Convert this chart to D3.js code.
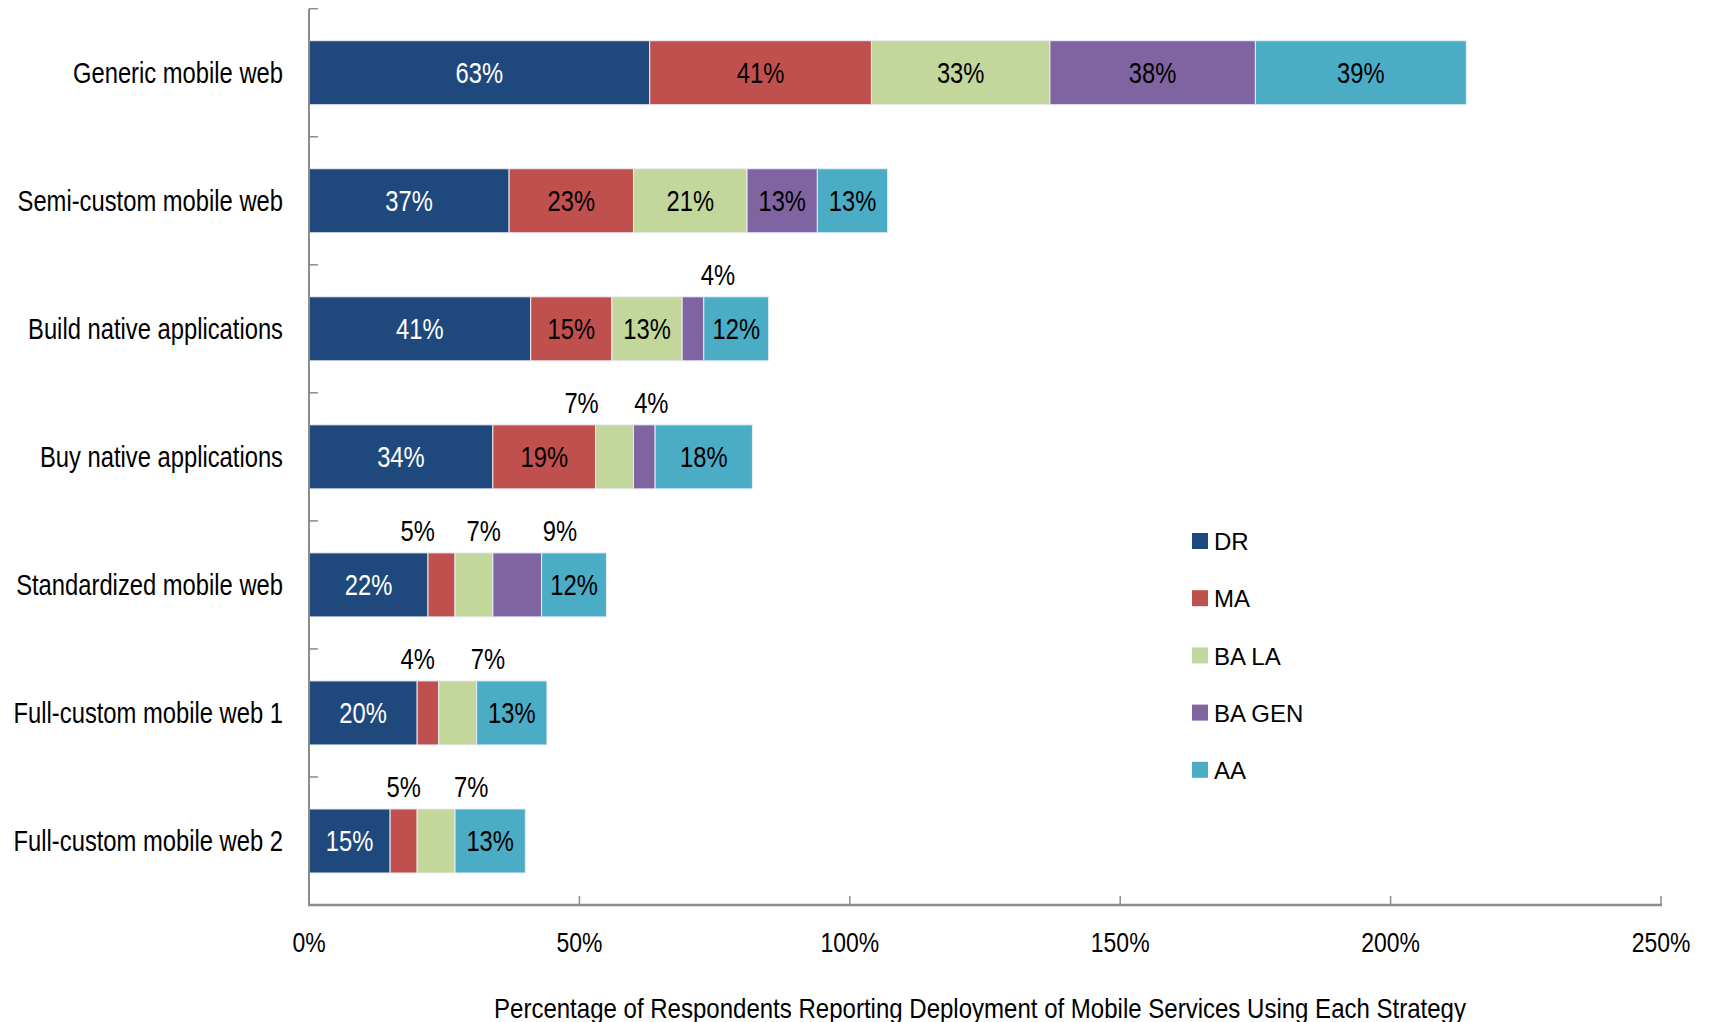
<!DOCTYPE html>
<html>
<head>
<meta charset="utf-8">
<script src="https://cdn.jsdelivr.net/npm/d3@7"></script>
<style>
  html, body { margin: 0; padding: 0; background: #fff; }
  svg text { font-family: "Liberation Sans", Arial, sans-serif; }
</style>
</head>
<body>
<svg id="plot" width="1711" height="1022"></svg>
<script>
const categories = [
  "Generic mobile web",
  "Semi-custom mobile web",
  "Build native applications",
  "Buy native applications",
  "Standardized mobile web",
  "Full-custom mobile web 1",
  "Full-custom mobile web 2"
];
const seriesNames = ["DR", "MA", "BA LA", "BA GEN", "AA"];
const drValues = [63, 37, 41, 34, 22, 20, 15];
const maValues = [41, 23, 15, 19, 5, 4, 5];
const baLaValues = [33, 21, 13, 7, 7, 7, 7];
const baGenValues = [38, 13, 4, 4, 9, 0, 0];
const aaValues = [39, 13, 12, 18, 12, 13, 13];
const xTicks = [0, 50, 100, 150, 200, 250];

const colors = ["#1f497d", "#c0504d", "#c3d69b", "#8064a2", "#4bacc6"];

const svg = d3.select("#plot");
const x0 = 309, x1 = 1661, yTop = 8.7, yBottom = 905;
const narrow = 0.82; // no condensed font installed, so squeeze the text

const xScale = d3.scaleLinear().domain([0, 250]).range([x0, x1]);
const yScale = d3.scaleBand()
  .domain(categories)
  .range([yTop, yBottom])
  .paddingInner(0.5)
  .paddingOuter(0.25);

// put a text at (x, y) and squeeze it horizontally
function place(sel, fx, fy, sx) {
  sel.attr("transform", (d, i) =>
    `translate(${typeof fx === "function" ? fx(d, i) : fx},${typeof fy === "function" ? fy(d, i) : fy}) scale(${sx},1)`);
  return sel;
}

// build table for stacking
const table = categories.map((c, i) => ({
  category: c,
  "DR": drValues[i],
  "MA": maValues[i],
  "BA LA": baLaValues[i],
  "BA GEN": baGenValues[i],
  "AA": aaValues[i]
}));
const stacked = d3.stack().keys(seriesNames)(table);

const layers = svg.append("g").selectAll("g")
  .data(stacked)
  .enter().append("g")
  .attr("fill", (d, i) => colors[i]);

layers.selectAll("rect")
  .data(d => d.filter(p => p[1] > p[0]))
  .enter().append("rect")
  .attr("x", d => xScale(d[0]))
  .attr("y", d => yScale(d.data.category))
  .attr("width", d => xScale(d[1]) - xScale(d[0]))
  .attr("height", yScale.bandwidth())
  .attr("stroke", "#e8eef4")
  .attr("stroke-width", 1);

// hand-tuned shifts (in % units) for small labels that sit above the bar
const labelShift = {
  "Build native applications|BA GEN": 4.6,
  "Buy native applications|BA LA": -6.1,
  "Buy native applications|BA GEN": 1.3,
  "Standardized mobile web|MA": -4.4,
  "Standardized mobile web|BA LA": 1.8,
  "Standardized mobile web|BA GEN": 7.9,
  "Full-custom mobile web 1|MA": -1.9,
  "Full-custom mobile web 1|BA LA": 5.6,
  "Full-custom mobile web 2|BA LA": 6.5
};

stacked.forEach((layer, si) => {
  layer.forEach(p => {
    const v = p[1] - p[0];
    if (v <= 0) return;
    const cat = p.data.category;
    const above = v < 10;
    const shift = labelShift[cat + "|" + layer.key] || 0;
    const cx = xScale((p[0] + p[1]) / 2 + (above ? shift : 0));
    const cy = above
      ? yScale(cat) - 22
      : yScale(cat) + yScale.bandwidth() / 2;
    const t = svg.append("text")
      .attr("dy", "0.36em")
      .attr("text-anchor", "middle")
      .attr("font-size", 29)
      .attr("fill", (si === 0 && !above) ? "#ffffff" : "#000000")
      .text(v + "%");
    place(t, cx, cy, narrow);
  });
});

// axes
const axisColor = "#8c8c8c";
const xAxis = svg.append("g");
xAxis.append("line")
  .attr("x1", x0 - 1).attr("x2", x1 + 1)
  .attr("y1", yBottom).attr("y2", yBottom)
  .attr("stroke", axisColor).attr("stroke-width", 2.5);
xAxis.selectAll(".tick")
  .data(xTicks)
  .enter().append("line")
  .attr("x1", d => xScale(d)).attr("x2", d => xScale(d))
  .attr("y1", yBottom).attr("y2", yBottom - 9)
  .attr("stroke", axisColor).attr("stroke-width", 1.5);
place(xAxis.selectAll("text")
  .data(xTicks)
  .enter().append("text")
  .attr("dy", "0.36em")
  .attr("text-anchor", "middle")
  .attr("font-size", 28)
  .attr("fill", "#000")
  .text(d => d + "%"), d => xScale(d), 942, narrow);

const yAxis = svg.append("g");
yAxis.append("line")
  .attr("x1", x0).attr("x2", x0)
  .attr("y1", yTop).attr("y2", yBottom)
  .attr("stroke", axisColor).attr("stroke-width", 2);
const bounds = categories.map(c => yScale(c) - yScale.step() * 0.25);
yAxis.selectAll(".tick")
  .data(bounds)
  .enter().append("line")
  .attr("x1", x0).attr("x2", x0 + 9)
  .attr("y1", d => d).attr("y2", d => d)
  .attr("stroke", axisColor).attr("stroke-width", 1.5);
place(yAxis.selectAll("text")
  .data(categories)
  .enter().append("text")
  .attr("dy", "0.36em")
  .attr("text-anchor", "end")
  .attr("font-size", 29)
  .attr("fill", "#000")
  .text(d => d), 283, d => yScale(d) + yScale.bandwidth() / 2, narrow);

// axis title
place(svg.append("text")
  .attr("dy", "0.36em")
  .attr("text-anchor", "middle")
  .attr("font-size", 27)
  .attr("fill", "#000")
  .text("Percentage of Respondents Reporting Deployment of Mobile Services Using Each Strategy"),
  980, 1008, 0.89);

// legend
const legend = svg.append("g")
  .attr("transform", "translate(1192, 533)");
const legendItems = legend.selectAll("g")
  .data(seriesNames)
  .enter().append("g")
  .attr("transform", (d, i) => `translate(0, ${i * 57.2})`);
legendItems.append("rect")
  .attr("width", 16)
  .attr("height", 16)
  .attr("fill", (d, i) => colors[i]);
legendItems.append("text")
  .attr("x", 22)
  .attr("y", 8.5)
  .attr("dy", "0.36em")
  .attr("font-size", 24)
  .attr("fill", "#000")
  .text(d => d);
</script>
</body>
</html>
